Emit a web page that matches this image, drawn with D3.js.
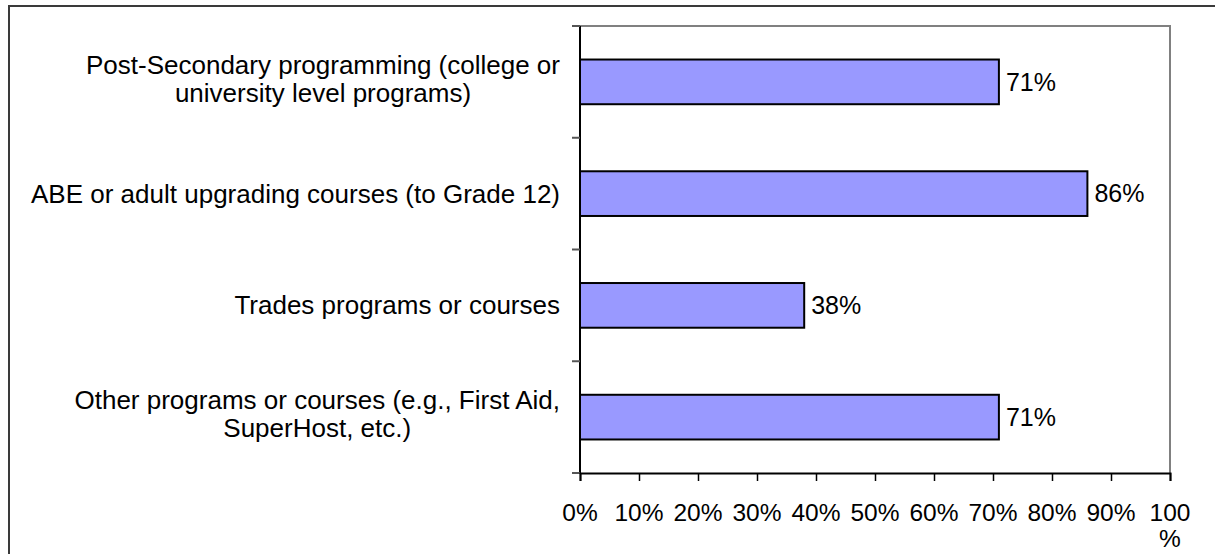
<!DOCTYPE html>
<html>
<head>
<meta charset="utf-8">
<script src="https://cdn.jsdelivr.net/npm/d3@7"></script>
<style>
  html, body { margin: 0; padding: 0; background: #fff; }
  svg { display: block; }
  text { font-family: "Liberation Sans", Arial, sans-serif; fill: #000; }
</style>
</head>
<body>
<svg id="chart" width="1215" height="554"></svg>
<script>
const categories = [
  ["Post-Secondary programming (college or", "university level programs)"],
  ["ABE or adult upgrading courses (to Grade 12)"],
  ["Trades programs or courses"],
  ["Other programs or courses (e.g., First Aid,", "SuperHost, etc.)"]
];
const values = [71, 86, 38, 71];
const tickValues = [0, 10, 20, 30, 40, 50, 60, 70, 80, 90, 100];
const tickLabels = ["0%", "10%", "20%", "30%", "40%", "50%", "60%", "70%", "80%", "90%", "100%"];

const catFont = 26, tickFont = 24.5, valFont = 25;
const svg = d3.select("#chart");

// outer frame
svg.append("rect").attr("x", 9).attr("y", 6).attr("width", 1300).attr("height", 700)
  .attr("fill", "none").attr("stroke", "#3a3a3a").attr("stroke-width", 2);

const plot = { left: 580, right: 1170, top: 26, bottom: 473 };
const x = d3.scaleLinear().domain([0, 100]).range([plot.left, plot.right]);
const y = d3.scaleBand().domain(d3.range(categories.length)).range([plot.top, plot.bottom]).paddingInner(0.6).paddingOuter(0.3);
const yTicks = d3.scaleBand().domain(d3.range(categories.length)).range([plot.top, plot.bottom]);

// plot border top/right (gray)
svg.append("path")
  .attr("d", `M${plot.left},${plot.top}H${plot.right}V${plot.bottom}`)
  .attr("fill", "none").attr("stroke", "#808080").attr("stroke-width", 2);

// bars
svg.selectAll("rect.bar").data(values).join("rect").attr("class", "bar")
  .attr("x", x(0))
  .attr("y", (d, i) => y(i))
  .attr("width", d => x(d) - x(0))
  .attr("height", y.bandwidth())
  .attr("fill", "#9999ff").attr("stroke", "#000").attr("stroke-width", 2);

// value labels
svg.selectAll("text.val").data(values).join("text").attr("class", "val")
  .attr("x", d => x(d) + 7)
  .attr("y", (d, i) => y(i) + y.bandwidth() / 2)
  .attr("dy", "0.35em")
  .attr("font-size", valFont)
  .text(d => d + "%");

// y axis line and ticks
svg.append("line").attr("x1", plot.left).attr("x2", plot.left).attr("y1", plot.top).attr("y2", plot.bottom)
  .attr("stroke", "#000").attr("stroke-width", 2);
const yTickPos = d3.range(categories.length + 1).map(i => i < categories.length ? yTicks(i) : plot.bottom);
svg.selectAll("line.ytick").data(yTickPos).join("line").attr("class", "ytick")
  .attr("x1", plot.left - 8).attr("x2", plot.left).attr("y1", d => d).attr("y2", d => d)
  .attr("stroke", "#555").attr("stroke-width", 2);

// x axis
const xAxis = d3.axisBottom(x).tickValues(tickValues).tickSize(8).tickFormat("");
const gx = svg.append("g").attr("transform", `translate(0,${plot.bottom})`).call(xAxis);
gx.select(".domain").attr("stroke", "#000").attr("stroke-width", 2);
gx.selectAll(".tick line").attr("stroke", "#000").attr("stroke-width", 1.5);

// x tick labels (100% wraps)
tickValues.forEach((v, i) => {
  const lbl = tickLabels[i];
  const t = svg.append("text").attr("x", x(v)).attr("y", 521).attr("text-anchor", "middle").attr("font-size", tickFont);
  if (lbl === "100%") {
    t.append("tspan").attr("x", x(v)).text("100");
    t.append("tspan").attr("x", x(v)).attr("dy", 26).text("%");
  } else {
    t.text(lbl);
  }
});

// category labels
categories.forEach((lines, i) => {
  const cy = yTicks(i) + yTicks.bandwidth() / 2 - (lines.length > 1 ? 3 : 0);
  const g = svg.append("g");
  const lh = 28;
  const texts = lines.map((ln, j) => g.append("text").attr("font-size", catFont)
    .attr("y", cy + (j - (lines.length - 1) / 2) * lh).attr("dy", "0.35em").text(ln));
  const widths = texts.map(t => t.node().getComputedTextLength());
  const maxW = d3.max(widths);
  const center = 560 - maxW / 2;
  texts.forEach(t => t.attr("x", center).attr("text-anchor", "middle"));
});
</script>
</body>
</html>
